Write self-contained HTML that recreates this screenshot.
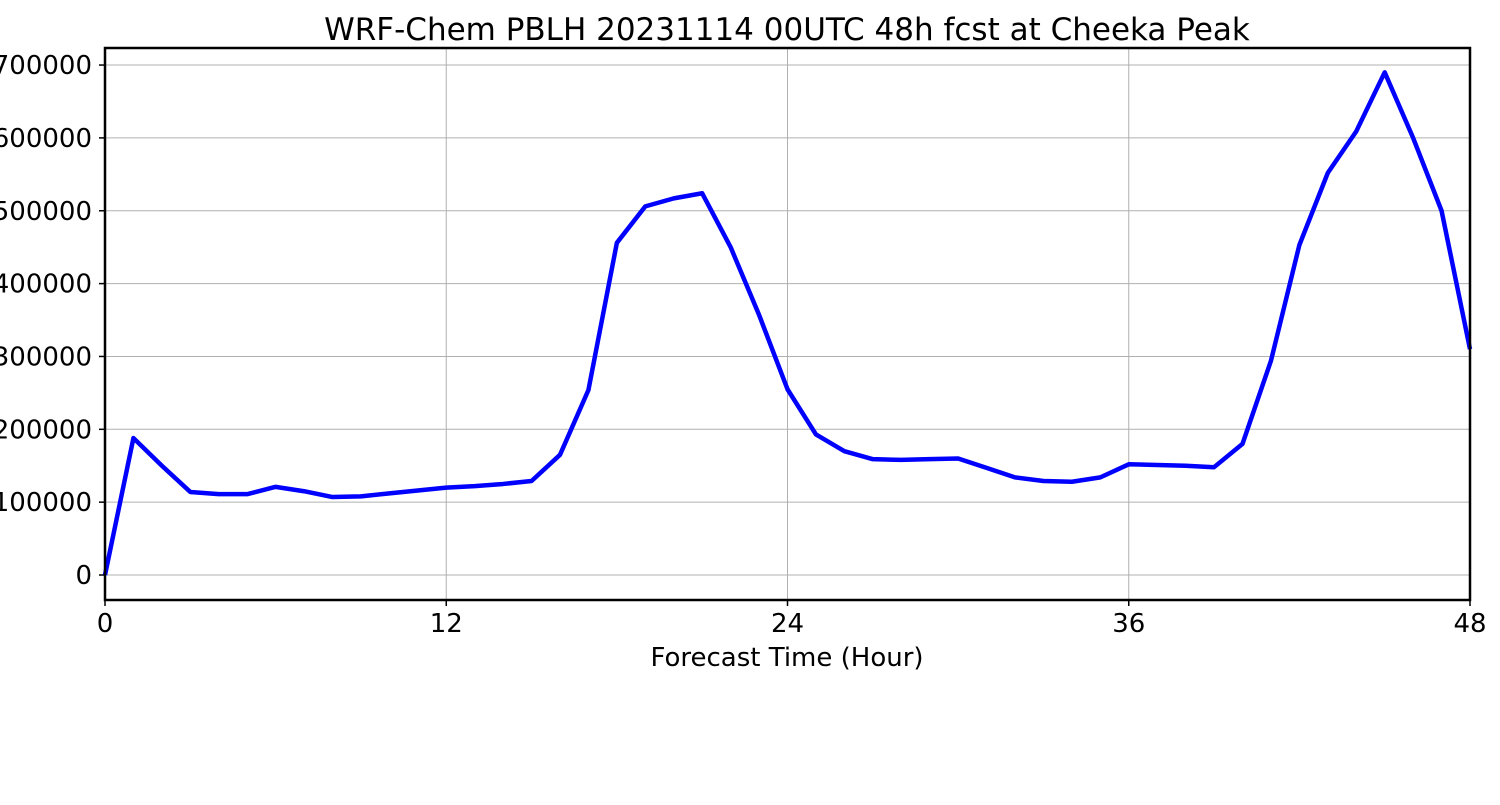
<!DOCTYPE html>
<html><head><meta charset="utf-8"><style>
body{margin:0;background:#fff;}
svg text{font-family:"DejaVu Sans","Liberation Sans",sans-serif;fill:#000;}
</style></head><body>
<svg id="chart" width="1500" height="800">
<text x="787" y="40" font-size="31" text-anchor="middle">WRF-Chem PBLH  20231114 00UTC 48h fcst at Cheeka Peak</text>
<g id="grid"></g>
<g id="axes"></g>
<g id="series"></g>
<rect x="105" y="48" width="1365" height="552" fill="none" stroke="#000" stroke-width="2.5"/>
<text x="787" y="666" font-size="26" text-anchor="middle">Forecast Time (Hour)</text>
</svg>
<script>
const hours=[0,1,2,3,4,5,6,7,8,9,10,11,12,13,14,15,16,17,18,19,20,21,22,23,24,25,26,27,28,29,30,31,32,33,34,35,36,37,38,39,40,41,42,43,44,45,46,47,48];
const pblh=[0,188000,150000,114000,111000,111000,121000,115000,107000,108000,112000,116000,120000,122000,125000,129000,165000,254000,456000,506000,517000,524000,450000,357000,255000,193000,170000,159000,158000,159000,160000,147000,134000,129000,128000,134000,152000,151000,150000,148000,180000,294000,453000,552000,609000,690000,600000,500000,310000];
const xTicks=[0,12,24,36,48];
const yTicks=[0,100000,200000,300000,400000,500000,600000,700000];
const NS="http://www.w3.org/2000/svg";
const L=105,R=1470,T=48,B=600;
const xMin=0,xMax=48,yMin=-34300,yMax=723400;
const xs=v=>L+(v-xMin)/(xMax-xMin)*(R-L);
const ys=v=>B-(v-yMin)/(yMax-yMin)*(B-T);
function mk(tag,attrs,parent){const e=document.createElementNS(NS,tag);for(const k in attrs)e.setAttribute(k,attrs[k]);parent.appendChild(e);return e;}
const grid=document.getElementById('grid'),axes=document.getElementById('axes'),series=document.getElementById('series');
xTicks.forEach(t=>{const x=xs(t);
 const g=mk('line',{x1:x,x2:x,y1:T,y2:B,stroke:'#b0b0b0','stroke-width':1},grid);
 
 
 const tk=mk('line',{x1:x,x2:x,y1:B,y2:B+6,stroke:'#000','stroke-width':1.5},axes);
 
 
 const tx=mk('text',{x:x,y:B+32,'font-size':26,'text-anchor':'middle'},axes);
 tx.textContent=t;
 
 
});
yTicks.forEach(t=>{const y=ys(t);
 const g=mk('line',{x1:L,x2:R,y1:y,y2:y,stroke:'#b0b0b0','stroke-width':1},grid);
 
 
 const tk=mk('line',{x1:L-6,x2:L,y1:y,y2:y,stroke:'#000','stroke-width':1.5},axes);
 
 
 const tx=mk('text',{x:L-13,y:y+9,'font-size':26,'text-anchor':'end'},axes);
 tx.textContent=t;
 
 
});
const pts=hours.map((h,i)=>xs(h)+','+ys(pblh[i])).join(' ');
const line=mk('polyline',{points:pts,fill:'none',stroke:'#0000ff','stroke-width':4.5,'stroke-linejoin':'round'},series);


</script>
</body></html>
